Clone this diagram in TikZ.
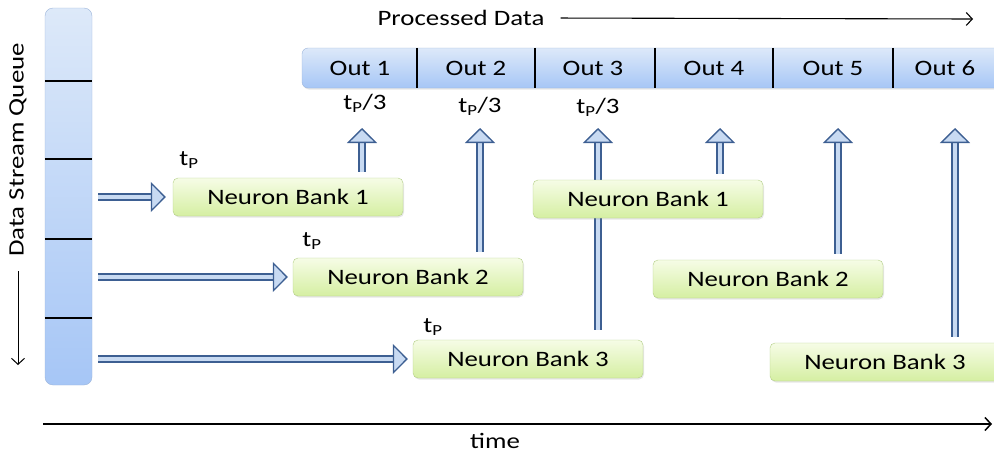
\documentclass[tikz,border=0pt]{standalone}
\usepackage{fontspec}
\setmainfont{Carlito}[FakeStretch=1.22]
\usetikzlibrary{arrows.meta,shadows}
\definecolor{qtop}{HTML}{DDE9F9}
\definecolor{qbot}{HTML}{A6C6F6}
\definecolor{qline}{HTML}{9DB5DA}
\definecolor{btop}{HTML}{F6FCE6}
\definecolor{bbot}{HTML}{D5EFA2}
\definecolor{bline}{HTML}{B3CF86}
\definecolor{arrline}{HTML}{3D5F92}
\definecolor{arrfill}{HTML}{C8DAF2}
\tikzset{
  queue/.style={draw=qline, rounded corners=8pt, top color=qtop, bottom color=qbot},
  bank/.style={draw=bline, rounded corners=5pt, top color=btop, bottom color=bbot,
    minimum width=230pt, minimum height=38pt,
    drop shadow={opacity=0.2, shadow xshift=1pt, shadow yshift=-1.5pt}},
  hol/.style={draw=arrline, double=arrfill, double distance=4.5pt, line width=1.3pt,
    -{Triangle[length=15pt, width=30pt, fill=arrfill]}, shorten <=6pt},
  axis/.style={-{Straight Barb[length=6pt, width=13pt]}, line width=1pt},
  divider/.style={line width=1.8pt}
}
\begin{document}
\begin{tikzpicture}[x=1pt, y=-1pt, font=\fontsize{22}{26}\selectfont, inner sep=2pt]
  \useasboundingbox (0,0) rectangle (994,455);
  \clip (0,0) rectangle (994,455);
  \node[queue, minimum width=47pt, minimum height=377pt] (q) at (68.5,196.5) {};
  \foreach \y in {81,159,239,318}
    \draw[divider] (q.west |- 0,\y) -- (q.east |- 0,\y);
  \node[rotate=90] (dsq) at (18,150) {Data Stream Queue};
  \coordinate (qd) at (18,365);
  \draw[axis, line width=1pt, shorten <=12pt] (dsq.west) -- (qd);

  \node[queue, rounded corners=6pt, minimum width=720pt, minimum height=40pt,
    drop shadow={opacity=0.2, shadow xshift=1pt, shadow yshift=-1.5pt}] (bar) at (662,68) {};
  \foreach \x in {417,535,655,773,893}
    \draw[divider] (\x,0 |- bar.north) -- (\x,0 |- bar.south);
  \node (out1) at (360,68) {Out 1};
  \node (out2) at (476,68) {Out 2};
  \node (out3) at (593,68) {Out 3};
  \node (out4) at (714,68) {Out 4};
  \node (out5) at (833,68) {Out 5};
  \node (out6) at (945,68) {Out 6};

  \node (pd) at (461,18) {Processed Data};
  \coordinate (pe) at (973,19);
  \draw[axis, line width=1.1pt, shorten <=14pt] (pd.east) -- (pe);

  \node at (365,103) {t\textsubscript{P}/3};
  \node at (480,106) {t\textsubscript{P}/3};
  \node at (598,107) {t\textsubscript{P}/3};

  \node at (189,160) {t\textsubscript{P}};
  \node at (312,241) {t\textsubscript{P}};
  \node at (433,327) {t\textsubscript{P}};

  \node[bank] (nb1) at (288,197) {Neuron Bank 1};
  \node[bank] (nb2) at (408,277) {Neuron Bank 2};
  \node[bank] (nb3) at (528,359) {Neuron Bank 3};
  \node[bank] (nb5) at (768,279) {Neuron Bank 2};
  \node[bank] (nb6) at (885,362) {Neuron Bank 3};

  \coordinate (u1) at (362,128);
  \coordinate (u2) at (480,128);
  \coordinate (u3) at (598,128);
  \coordinate (u4) at (720,128);
  \coordinate (u5) at (838,128);
  \coordinate (u6) at (955,128);

  \draw[hol, shorten >=7pt] (q.east |- nb1.west) -- (nb1.west);
  \draw[hol, shorten >=5pt] (q.east |- nb2.west) -- (nb2.west);
  \draw[hol, shorten >=5pt] (q.east |- nb3.west) -- (nb3.west);

  \draw[hol] (nb1.north -| u1) -- (u1);
  \draw[hol] (nb2.north -| u2) -- (u2);
  \draw[hol, shorten <=10pt] (nb3.north -| u3) -- (u3);
  \draw[hol] (nb5.north -| u5) -- (u5);
  \draw[hol] (nb6.north -| u6) -- (u6);

  \node[bank] (nb4) at (648,199) {Neuron Bank 1};
  \draw[hol] (nb4.north -| u4) -- (u4);

  \coordinate (ta) at (43,424);
  \coordinate (tb) at (992,424);
  \draw[axis, line width=1.5pt] (ta) -- (tb);
  \node (time) at (495,441) {time};
\end{tikzpicture}
\end{document}
